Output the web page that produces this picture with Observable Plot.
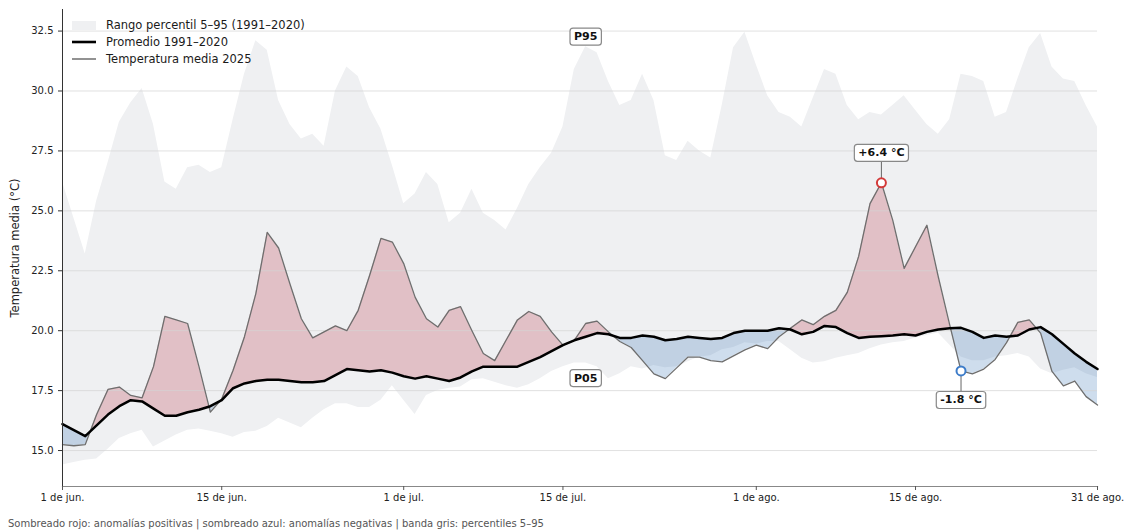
<!DOCTYPE html>
<html lang="es">
<head>
<meta charset="utf-8">
<script src="https://cdn.jsdelivr.net/npm/d3@7"></script>
<script src="https://cdn.jsdelivr.net/npm/@observablehq/plot@0.6"></script>
<style>
  html, body { margin: 0; padding: 0; background: #fff; }
  body { width: 1128px; height: 530px; overflow: hidden; font-family: "DejaVu Sans", sans-serif; }
  #grafico { position: relative; width: 1128px; height: 510px; }
  #grafico svg { display: block; }
  .leyenda { position: absolute; left: 72px; top: 16px; font-size: 11.5px; color: #1a1a1a; }
  .leyenda .fila { display: flex; align-items: center; height: 17px; }
  .leyenda .muestra { width: 24px; margin-right: 10px; }
  .pie { font-size: 10px; color: #555; padding-left: 8px; margin-top: 8px; white-space: nowrap; }
</style>
</head>
<body>
<div id="grafico"></div>
<div class="pie">Sombreado rojo: anomalías positivas | sombreado azul: anomalías negativas | banda gris: percentiles 5–95</div>
<script>
// Serie diaria: 1 de junio – 31 de agosto de 2025
const inicio = "2025-06-01";

// Percentil 95 (1991–2020), °C
const p95 = [
  26.2, 24.7, 23.2, 25.4, 27.0, 28.7, 29.5, 30.1, 28.6, 26.2,
  25.9, 26.8, 26.9, 26.6, 26.8, 28.8, 30.7, 32.1, 31.7, 29.6,
  28.6, 28.0, 28.2, 27.7, 30.0, 31.0, 30.6, 29.3, 28.4, 26.9,
  25.3, 25.7, 26.6, 26.1, 24.5, 24.9, 25.9, 24.9, 24.6, 24.2,
  25.1, 26.1, 26.8, 27.4, 28.5, 30.9, 31.85, 31.6, 30.4, 29.4,
  29.6, 30.7, 29.6, 27.3, 27.1, 27.9, 27.5, 27.2, 29.4, 31.8,
  32.45, 31.1, 29.8, 29.1, 28.9, 28.5, 29.7, 30.9, 30.7, 29.4,
  28.8, 29.1, 29.0, 29.4, 29.8, 29.2, 28.6, 28.2, 28.8, 30.7,
  30.6, 30.4, 28.9, 29.1, 30.5, 31.8, 32.4, 31.0, 30.5, 30.4,
  29.4, 28.5
];

// Percentil 5 (1991–2020), °C
const p05 = [
  14.4, 14.5, 14.6, 14.65, 15.05, 15.5, 15.7, 15.85, 15.15, 15.4,
  15.65, 15.85, 15.9, 15.8, 15.7, 15.55, 15.75, 15.8, 16.0, 16.35,
  16.15, 15.95, 16.35, 16.7, 16.95, 16.95, 16.8, 16.8, 17.1, 17.7,
  17.1, 16.5, 17.3, 17.5, 17.6, 17.65, 17.95, 18.0, 17.85, 17.7,
  17.6, 17.75, 18.0, 18.3, 18.5, 18.65, 18.65, 18.5, 18.0, 18.2,
  18.5, 18.4, 18.55, 18.45, 18.5, 18.7, 18.9, 18.95, 19.2, 19.3,
  19.5, 19.45, 19.55, 19.55, 19.2, 18.85, 18.65, 18.7, 18.85, 18.95,
  19.05, 19.25, 19.4, 19.5, 19.55, 19.7, 19.8, 19.9, 19.4, 18.9,
  18.75, 18.75, 18.9, 18.95, 19.05, 18.9, 18.4, 18.2, 18.35, 18.45,
  18.2, 18.05
];

// Promedio diario 1991–2020, °C
const promedio = [
  16.1, 15.85, 15.6, 16.05, 16.5, 16.85, 17.1, 17.05, 16.75, 16.45,
  16.45, 16.6, 16.7, 16.85, 17.1, 17.6, 17.8, 17.9, 17.95, 17.95,
  17.9, 17.85, 17.85, 17.9, 18.15, 18.4, 18.35, 18.3, 18.35, 18.25,
  18.1, 18.0, 18.1, 18.0, 17.9, 18.05, 18.3, 18.5, 18.5, 18.5,
  18.5, 18.7, 18.9, 19.15, 19.4, 19.6, 19.75, 19.9, 19.85, 19.7,
  19.7, 19.8, 19.75, 19.6, 19.65, 19.75, 19.7, 19.65, 19.7, 19.9,
  20.0, 20.0, 20.0, 20.1, 20.05, 19.85, 19.95, 20.2, 20.15, 19.9,
  19.7, 19.75, 19.77, 19.8, 19.85, 19.8, 19.95, 20.05, 20.1, 20.12,
  19.95, 19.7, 19.8, 19.75, 19.8, 20.05, 20.15, 19.85, 19.45, 19.05,
  18.7, 18.4
];

// Temperatura media diaria 2025, °C
const temp2025 = [
  15.25, 15.2, 15.25, 16.5, 17.55, 17.65, 17.3, 17.2, 18.5, 20.6,
  20.45, 20.3, 18.5, 16.6, 17.15, 18.35, 19.75, 21.55, 24.1, 23.45,
  21.95, 20.5, 19.7, 19.95, 20.2, 20.0, 20.85, 22.3, 23.85, 23.7,
  22.8, 21.4, 20.5, 20.15, 20.85, 21.0, 20.0, 19.05, 18.75, 19.6,
  20.45, 20.8, 20.6, 19.95, 19.4, 19.6, 20.3, 20.4, 19.95, 19.55,
  19.3, 18.75, 18.2, 18.0, 18.45, 18.9, 18.9, 18.75, 18.7, 18.95,
  19.2, 19.4, 19.25, 19.75, 20.1, 20.45, 20.25, 20.6, 20.85, 21.6,
  23.1, 25.3, 26.17, 24.6, 22.6, 23.5, 24.4, 22.25, 20.25, 18.32,
  18.2, 18.4, 18.8, 19.5, 20.35, 20.45, 19.9, 18.3, 17.7, 17.9,
  17.25, 16.9
];

// Marcas de los ejes
const yTicks = [15.0, 17.5, 20.0, 22.5, 25.0, 27.5, 30.0, 32.5];
const xTickFechas = ["2025-06-01", "2025-06-15", "2025-07-01", "2025-07-15", "2025-08-01", "2025-08-15", "2025-08-31"];
const xTickEtiquetas = ["1 de jun.", "15 de jun.", "1 de jul.", "15 de jul.", "1 de ago.", "15 de ago.", "31 de ago."];

// Tabla diaria
const dia0 = new Date(inicio + "T00:00:00Z");
const filas = promedio.map((m, i) => ({
  fecha: d3.utcDay.offset(dia0, i),
  p05: p05[i], p95: p95[i], promedio: m, t2025: temp2025[i]
}));

// Relleno de anomalías: se añaden los puntos de cruce con el promedio
const relleno = [];
for (let i = 0; i < filas.length; i++) {
  const f0 = filas[i];
  const a = f0.t2025 - f0.promedio;
  relleno.push({fecha: f0.fecha, base: f0.promedio, valor: f0.t2025});
  if (i + 1 < filas.length) {
    const f1 = filas[i + 1];
    const b = f1.t2025 - f1.promedio;
    if (a * b < 0) {
      const k = a / (a - b);
      const v = f0.promedio + k * (f1.promedio - f0.promedio);
      relleno.push({fecha: new Date(+f0.fecha + k * (f1.fecha - f0.fecha)), base: v, valor: v});
    }
  }
}

// Anomalías extremas
const anomalia = filas.map(d => d.t2025 - d.promedio);
const iMax = d3.maxIndex(anomalia);
const iMin = d3.minIndex(anomalia);
const fmtAnom = v => (v > 0 ? "+" : "") + v.toFixed(1) + " °C";
const iMedio = Math.floor(filas.length / 2);

const etiquetasX = new Map(xTickFechas.map((s, i) => [+new Date(s + "T00:00:00Z"), xTickEtiquetas[i]]));
const ticksX = xTickFechas.map(s => new Date(s + "T00:00:00Z"));

const textoMax = fmtAnom(anomalia[iMax]);
const textoMin = fmtAnom(anomalia[iMin]);
const conCaja = new Set([textoMax, textoMin, "P95", "P05"]);

const estiloEtiqueta = {fontWeight: "bold", fontSize: 11, fill: "#111"};

const grafico = Plot.plot({
  width: 1128,
  height: 510,
  marginLeft: 62,
  marginRight: 31,
  marginTop: 9,
  marginBottom: 24,
  style: {fontFamily: "DejaVu Sans, sans-serif", fontSize: "10px", color: "#222", background: "#fff"},
  x: {type: "utc", domain: [filas[0].fecha, filas[filas.length - 1].fecha]},
  y: {domain: [13.5, 33.4]},
  marks: [
    Plot.areaY(filas, {x: "fecha", y1: "p05", y2: "p95", fill: "#eff0f2"}),
    Plot.areaY(relleno, {x: "fecha", y1: "base", y2: d => Math.max(d.valor, d.base), fill: "#b2182b", fillOpacity: 0.22}),
    Plot.areaY(relleno, {x: "fecha", y1: "base", y2: d => Math.min(d.valor, d.base), fill: "#2166ac", fillOpacity: 0.22}),
    Plot.gridY(yTicks, {stroke: "#d4d4d4", strokeOpacity: 0.7}),
    Plot.lineY(filas, {x: "fecha", y: "t2025", stroke: "#6e6e6e", strokeWidth: 1.3}),
    Plot.lineY(filas, {x: "fecha", y: "promedio", stroke: "#000", strokeWidth: 2.5}),
    Plot.frame({anchor: "left", stroke: "#333"}),
    Plot.frame({anchor: "bottom", stroke: "#888", strokeWidth: 1.2}),
    Plot.axisY({ticks: yTicks, tickFormat: d => d.toFixed(1), tickSize: 4, tickPadding: 5, label: null, stroke: "#333"}),
    Plot.axisY({ticks: [], label: "Temperatura media (°C)", labelAnchor: "center", labelArrow: "none", labelOffset: 52, fontSize: 11.5}),
    Plot.axisX({ticks: ticksX, tickFormat: d => etiquetasX.get(+d), tickSize: 4, tickPadding: 3, label: null, stroke: "#555"}),
    // Conectores de las anomalías extremas
    Plot.ruleX([filas[iMax]], {x: "fecha", y1: "t2025", y2: "t2025", insetTop: -30, stroke: "#666"}),
    Plot.ruleX([filas[iMin]], {x: "fecha", y1: "t2025", y2: "t2025", insetBottom: -29, stroke: "#666"}),
    Plot.dot([filas[iMax]], {x: "fecha", y: "t2025", r: 4.5, fill: "#fff", stroke: "#d33a3a", strokeWidth: 2}),
    Plot.dot([filas[iMin]], {x: "fecha", y: "t2025", r: 4.5, fill: "#fff", stroke: "#3d7cc9", strokeWidth: 2}),
    Plot.text([filas[iMax]], {x: "fecha", y: "t2025", text: () => textoMax, dy: -30, ...estiloEtiqueta}),
    Plot.text([filas[iMin]], {x: "fecha", y: "t2025", text: () => textoMin, dy: 29, ...estiloEtiqueta}),
    Plot.text([filas[iMedio]], {x: "fecha", y: "p95", text: () => "P95", dy: -10, ...estiloEtiqueta}),
    Plot.text([filas[iMedio]], {x: "fecha", y: "p05", text: () => "P05", dy: 15, ...estiloEtiqueta})
  ]
});

const contenedor = document.getElementById("grafico");
contenedor.appendChild(grafico);

// Cajas redondeadas detrás de las etiquetas
const NS = "http://www.w3.org/2000/svg";
grafico.querySelectorAll("text").forEach(t => {
  if (!conCaja.has(t.textContent)) return;
  const b = t.getBBox();
  const r = document.createElementNS(NS, "rect");
  r.setAttribute("x", b.x - 4);
  r.setAttribute("y", b.y - 2);
  r.setAttribute("width", b.width + 8);
  r.setAttribute("height", b.height + 4);
  r.setAttribute("rx", 3);
  r.setAttribute("fill", "#fff");
  r.setAttribute("stroke", "#888");
  r.setAttribute("stroke-width", 1.2);
  const tr = t.getAttribute("transform");
  if (tr) r.setAttribute("transform", tr);
  t.parentNode.insertBefore(r, t);
});

// Leyenda
const leyenda = document.createElement("div");
leyenda.className = "leyenda";
const entradas = [
  {texto: "Rango percentil 5–95 (1991–2020)", muestra: '<svg class="muestra" width="24" height="10"><rect x="0" y="1" width="24" height="9" fill="#eff0f2"/></svg>'},
  {texto: "Promedio 1991–2020", muestra: '<svg class="muestra" width="24" height="10"><line x1="0" x2="24" y1="5" y2="5" stroke="#000" stroke-width="2.6"/></svg>'},
  {texto: "Temperatura media 2025", muestra: '<svg class="muestra" width="24" height="10"><line x1="0" x2="24" y1="5" y2="5" stroke="#6e6e6e" stroke-width="1.5"/></svg>'}
];
leyenda.innerHTML = entradas.map(e => `<div class="fila">${e.muestra}<span>${e.texto}</span></div>`).join("");
contenedor.appendChild(leyenda);
</script>
</body>
</html>
